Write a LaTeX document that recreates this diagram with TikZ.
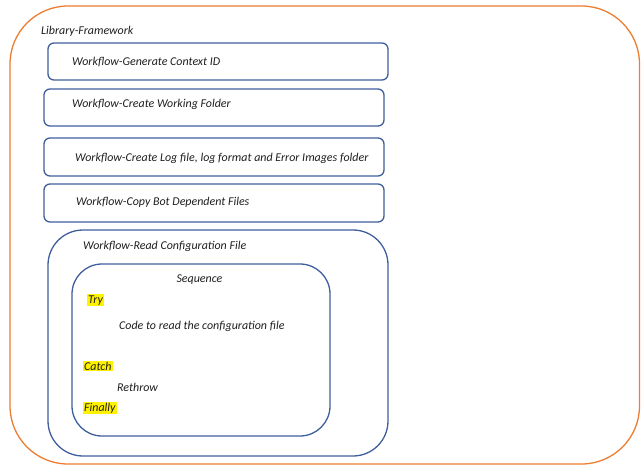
\documentclass[tikz,border=0pt]{standalone}
\usepackage{fontspec}
\setmainfont{Carlito}
\definecolor{orangeline}{HTML}{ED7D31}
\definecolor{blueline}{HTML}{3F5E9C}
\definecolor{textdark}{HTML}{1E1E1E}
\begin{document}
\begin{tikzpicture}[x=1pt,y=-1pt,
  frame/.style={draw=orangeline, line width=1.3pt, rounded corners=58pt, rectangle, inner sep=0pt},
  box/.style={draw=blueline, line width=1.3pt, rounded corners=6pt, rectangle, inner sep=0pt},
  lbl/.style={font=\fontsize{11.95}{14}\selectfont\itshape, inner sep=0pt, anchor=base west, text=textdark},
  hl/.style={lbl, fill=yellow, inner sep=1pt}]
\useasboundingbox (0,0) rectangle (641,466);
\clip (0,0) rectangle (641,466);

% outer framework container
\node[frame, minimum width=629.5pt, minimum height=458pt] (framework) at (324.75,235) {};
\node[lbl] (tframework) at (41,34) {Library-Framework};

% single-step workflows
\node[box, minimum width=340pt, minimum height=37pt] (gen) at (218,61.5) {};
\node[lbl] (tgen) at (72,65) {Workflow-Generate Context ID};
\node[box, minimum width=340pt, minimum height=37pt] (work) at (214,107.5) {};
\node[lbl] (twork) at (72,107) {Workflow-Create Working Folder};
\node[box, minimum width=340pt, minimum height=38pt] (log) at (214,157) {};
\node[lbl] (tlog) at (75,161) {Workflow-Create Log file, log format and Error Images folder};
\node[box, minimum width=340pt, minimum height=38pt] (copy) at (214,203) {};
\node[lbl] (tcopy) at (76,205) {Workflow-Copy Bot Dependent Files};

% configuration reading workflow
\node[box, rounded corners=35pt, minimum width=340pt, minimum height=226pt] (read) at (218,343) {};
\node[lbl] (tread) at (83,249) {Workflow-Read Configuration File};
\node[box, rounded corners=30pt, minimum width=258pt, minimum height=172pt] (seq) at (201,350) {};
\node[lbl, anchor=base] (tseq) at (199.5,282) {Sequence};
\node[hl] (try) at (87,303) {Try};
\node[lbl] (code) at (119,329) {Code to read the configuration file};
\node[hl] (catch) at (83,370) {Catch};
\node[lbl] (rethrow) at (117,391) {Rethrow};
\node[hl] (finally) at (83,411) {Finally};
\end{tikzpicture}
\end{document}
